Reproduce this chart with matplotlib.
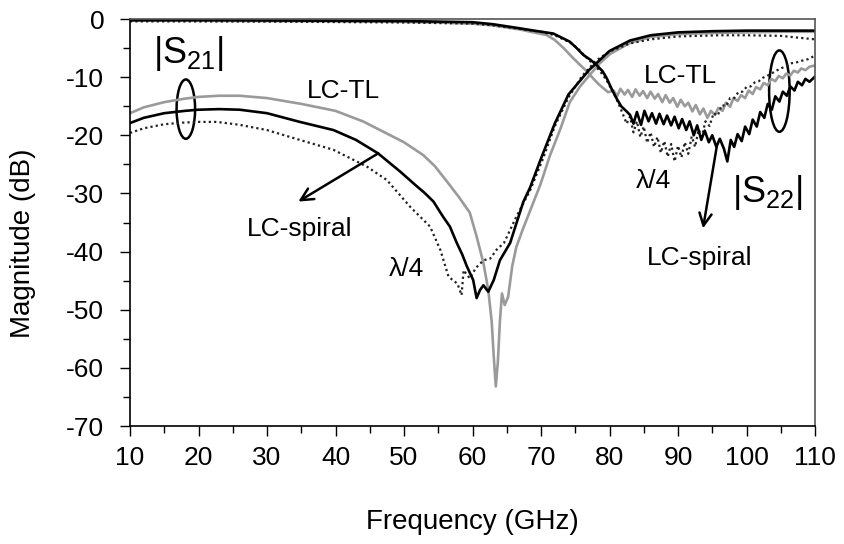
import matplotlib
matplotlib.use("Agg")
import matplotlib.pyplot as plt
from matplotlib.patches import Ellipse
from matplotlib.ticker import MultipleLocator

plt.rcParams['font.family'] = ['Liberation Sans', 'DejaVu Sans']
plt.rcParams['axes.unicode_minus'] = False

# ---------------- data ----------------
# |S21| curves
s21_tl_f = [10, 12, 15, 18, 20, 23, 26, 30, 35, 40, 44, 47, 50, 52.8, 54.5, 56.5, 58, 59.6,
            60.6, 61.6, 62.3, 62.8, 63.1, 63.4, 63.7, 64.0, 64.3, 64.7, 65.2, 65.8, 66.4,
            67.4, 68.4, 69.9, 71.3, 72.8, 74.2, 75.7, 77.2, 78.6, 80.1, 83, 86, 90, 95,
            100, 105, 110]
s21_tl_db = [-16.2, -15.2, -14.3, -13.7, -13.4, -13.2, -13.2, -13.6, -14.6, -15.8, -17.6,
             -19.4, -21.2, -23.4, -25.3, -28.3, -30.6, -33.3, -37.4, -42.0, -46.6, -52.0,
             -58.0, -63.2, -59.0, -52.0, -47.2, -49.2, -47.8, -42.5, -39.2, -36.0, -33.0,
             -28.5, -23.5, -19.0, -14.3, -11.6, -9.5, -7.6, -6.0, -4.1, -3.1, -2.6, -2.4,
             -2.3, -2.2, -2.2]

s21_sp_f = [10, 12, 15, 18, 20, 23, 26, 30, 34.8, 39.7, 43, 46.2, 49.4, 51.9, 53, 54.3,
            55.7, 56.7, 57.7, 58.5, 59.2, 60.1, 60.6, 61.1, 61.6, 62.3, 63.1, 64, 65.5,
            67.4, 68.4, 70, 72, 74, 77, 80, 83, 86, 90, 95, 100, 105, 110]
s21_sp_db = [-17.9, -17.0, -16.2, -15.8, -15.6, -15.5, -15.6, -16.2, -17.7, -19.1, -20.8,
             -23.1, -26.2, -28.8, -29.9, -31.4, -34.0, -35.7, -38.5, -40.5, -42.6, -44.9,
             -48.0, -46.6, -45.8, -46.9, -44.9, -41.5, -38.5, -31.5, -29.0, -24.0, -18.0,
             -13.0, -8.8, -5.5, -3.7, -2.8, -2.3, -2.1, -2.0, -2.0, -2.0]

s21_q_f = [10, 12, 15, 18, 20, 22.7, 26, 30, 34.8, 39.7, 44.6, 47.5, 50.9, 53.8, 55.3, 56.5,
           57.1, 57.8, 58.4, 58.7, 59.2, 59.6, 60.5, 61.6, 62.6, 63.5, 64.6, 66.4, 68.4,
           70.3, 72, 74, 76, 78, 80, 83, 86, 90, 96, 100, 105, 110]
s21_q_db = [-19.6, -18.8, -18.1, -17.8, -17.7, -17.7, -18.2, -19.1, -20.8, -22.5, -25.4,
            -27.7, -32.3, -35.7, -39.7, -44.3, -44.9, -45.5, -47.5, -43.2, -44.0, -44.6,
            -42.8, -41.5, -41.2, -39.7, -38.5, -34.0, -29.5, -24.0, -18.5, -13.5, -9.8,
            -7.2, -5.6, -4.2, -3.5, -3.0, -2.8, -2.8, -2.9, -3.5]

# |S22| curves
s22_tl_f = [10, 20, 30, 40, 50, 55, 60, 63, 66.9, 68.5, 70.8, 72, 73.3, 74.5, 75.7, 76.7,
            77.6, 78.4, 79.1, 79.8,
            80.6, 81.1, 81.6, 82.2, 82.7, 83.3, 83.8, 84.4, 84.9, 85.5, 86.0, 86.6, 87.1,
            87.7, 88.2, 88.8, 89.3, 89.9, 90.4, 91.0, 91.5, 92.1, 92.6, 93.2, 93.7, 94.3,
            94.8, 95.4, 95.9, 96.5, 97.0, 97.6, 98.1, 98.7, 99.2, 99.8, 100.3, 100.9,
            101.4, 102.0, 102.5, 103.1, 103.6, 104.2, 104.7, 105.3, 105.8, 106.4, 106.9,
            107.5, 108.0, 108.6, 109.2, 110.0]
s22_tl_db = [-0.3, -0.3, -0.35, -0.4, -0.5, -0.6, -0.8, -1.1, -1.8, -2.2, -2.75, -3.6, -5.0,
             -6.5, -7.9, -9.0, -10.2, -11.2, -11.9, -12.6,
             -12.3, -13.3, -12.0, -13.0, -12.2, -13.4, -12.1, -13.2, -12.4, -13.6, -12.5,
             -13.7, -12.9, -14.3, -13.1, -14.4, -13.6, -15.1, -13.9, -15.0, -14.4, -15.9,
             -14.8, -16.4, -15.4, -17.0, -15.8, -16.5, -15.3, -15.8, -14.4, -15.1, -13.6,
             -14.1, -13.1, -13.6, -12.3, -12.9, -11.7, -12.1, -11.0, -11.4, -10.3, -10.7,
             -9.8, -10.2, -9.4, -9.7, -8.9, -9.2, -8.5, -8.8, -8.2, -8.0]

s22_sp_f = [10, 20, 30, 40, 50, 55, 60, 63, 66.9, 69, 71.8, 73, 74.2, 75.2, 76.2, 77.2, 78.1,
            79, 79.6, 80.3, 81, 81.7, 82.5,
            83.0, 83.5, 84.0, 84.6, 85.1, 85.7, 86.2, 86.8, 87.3, 87.9, 88.4, 89.0, 89.5,
            90.1, 90.6, 91.2, 91.7, 92.3, 92.8, 93.4, 93.9, 94.5, 95.0, 95.6, 96.1, 96.7,
            97.2, 97.7, 98.2, 98.7, 99.3, 99.8, 100.4, 100.9, 101.5, 102.0, 102.6, 103.1,
            103.7, 104.2, 104.8, 105.3, 105.9, 106.4, 107.0, 107.5, 108.1, 108.6, 109.2,
            110.0]
s22_sp_db = [-0.2, -0.2, -0.25, -0.3, -0.35, -0.45, -0.55, -0.9, -1.6, -2.0, -2.5, -3.2,
             -3.9, -5.0, -6.2, -7.0, -7.9, -9.0, -10.2, -12.0, -13.6, -15.0, -15.9,
             -16.5, -18.0, -16.0, -18.2, -15.8, -17.6, -16.2, -18.0, -16.3, -18.1, -16.6,
             -18.3, -16.8, -18.8, -17.2, -19.1, -17.6, -20.0, -18.3, -20.8, -19.2, -21.2,
             -20.0, -22.0, -20.6, -22.3, -24.5, -20.8, -22.0, -19.8, -21.0, -18.5, -19.8,
             -17.3, -18.5, -16.0, -17.0, -14.6, -15.6, -13.3, -14.2, -12.5, -13.2, -11.6,
             -12.3, -10.8, -11.4, -10.3, -10.8, -9.9]

s22_q_f = [10, 30, 50, 60, 63, 66.9, 70, 72, 74.2, 75.5, 76.5, 77.5, 78.5, 79.5, 80.5, 81.3,
           82.0, 82.5, 83.0, 83.5, 84.0, 84.5, 85.0, 85.5, 86.0, 86.5, 87.0, 87.5, 88.0,
           88.5, 89.0, 89.5, 90.0, 90.5, 91.0, 91.5, 92.0, 92.5, 93.0, 93.5, 94.0, 94.6,
           95.2, 95.8, 96.4, 97.0, 97.6, 98.2, 98.8, 99.4, 100.0, 100.6, 101.2, 101.8,
           102.4, 103.0, 103.6, 104.2, 104.8, 105.4, 106.0, 106.6, 107.2, 108.0, 109.0,
           110.0]
s22_q_db = [-0.4, -0.45, -0.6, -0.8, -1.1, -1.7, -2.2, -2.8, -4.0, -5.2, -6.5, -7.6, -8.8,
            -10.4, -12.5, -14.5, -16.5, -18.0, -16.8, -19.5, -17.6, -20.3, -18.5, -21.3,
            -19.5, -22.0, -20.3, -23.0, -21.0, -23.7, -21.5, -24.5, -21.8, -23.8, -21.2,
            -23.2, -20.2, -22.0, -19.0, -20.2, -17.6, -18.4, -16.2, -16.6, -14.8, -15.0,
            -13.6, -13.6, -12.6, -12.5, -11.7, -11.6, -10.9, -10.7, -10.1, -9.8, -9.4,
            -9.0, -8.6, -8.3, -8.0, -7.6, -7.5, -7.2, -6.9, -6.3]

x_ticks = list(range(10, 111, 10))
y_ticks = list(range(-70, 1, 10))

# ---------------- figure ----------------
fig = plt.figure(figsize=(8.45, 5.44), dpi=100)
ax = fig.add_axes([0.15385, 0.21691, 0.81065, 0.74816])

gray = '#9a9a9a'
lw = 1.9
dot = (0, (1.0, 1.4))

ax.plot(s21_tl_f, s21_tl_db, color=gray, lw=lw)
ax.plot(s22_tl_f, s22_tl_db, color=gray, lw=lw)
ax.plot(s21_q_f, s21_q_db, color='#222222', lw=1.6, linestyle=dot)
ax.plot(s22_q_f, s22_q_db, color='#222222', lw=1.6, linestyle=dot)
ax.plot(s21_sp_f, s21_sp_db, color='black', lw=lw)
ax.plot(s22_sp_f, s22_sp_db, color='black', lw=lw)

ax.set_xlim(10, 110)
ax.set_ylim(-70, 0)
ax.set_xticks(x_ticks)
ax.set_yticks(y_ticks)
ax.xaxis.set_minor_locator(MultipleLocator(5))
ax.yaxis.set_minor_locator(MultipleLocator(5))
ax.tick_params(which='major', direction='out', length=7.5, width=1.0, labelsize=19)
ax.tick_params(which='minor', direction='out', length=5, width=1.0)
ax.tick_params(axis='x', which='major', pad=7)
ax.tick_params(axis='y', which='major', pad=11)

for s in ['left', 'bottom']:
    ax.spines[s].set_linewidth(1.2)
    ax.spines[s].set_color('black')
for s in ['top', 'right']:
    ax.spines[s].set_linewidth(1.2)
    ax.spines[s].set_color('#555555')

ax.set_xlabel('Frequency (GHz)', fontsize=20, va='center')
ax.xaxis.set_label_coords(0.5, -0.236)
ax.set_ylabel('Magnitude (dB)', fontsize=20, va='center')
ax.yaxis.set_label_coords(-0.156, 0.45)

# ---------------- annotations ----------------
ax.add_patch(Ellipse((18.15, -15.5), 2.7, 10.2, fill=False, edgecolor='black', lw=1.8))
ax.add_patch(Ellipse((104.8, -12.4), 3.0, 14.0, fill=False, edgecolor='black', lw=1.8))

ax.text(18.5, -5.85, r'|S$_{\mathregular{21}}$|', fontsize=26, ha='center', va='center')
ax.text(103.0, -29.8, r'|S$_{\mathregular{22}}$|', fontsize=26, ha='center', va='center')
ax.text(41.2, -12.4, 'LC-TL', fontsize=19, ha='center', va='center')
ax.text(90.4, -9.8, 'LC-TL', fontsize=19, ha='center', va='center')
ax.text(34.8, -36.1, 'LC-spiral', fontsize=19, ha='center', va='center')
ax.text(93.2, -41.1, 'LC-spiral', fontsize=19, ha='center', va='center')
ax.text(50.4, -43.0, 'λ/4', fontsize=19, ha='center', va='center')
ax.text(86.35, -27.9, 'λ/4', fontsize=19, ha='center', va='center')

arrow = dict(arrowstyle='->', lw=1.8, color='black', mutation_scale=22, shrinkA=0, shrinkB=0)
ax.annotate('', xy=(34.57, -31.4), xytext=(46.25, -23.1), arrowprops=arrow)
ax.annotate('', xy=(93.65, -36.0), xytext=(95.65, -22.0), arrowprops=arrow)

fig.savefig('out.png', dpi=100)
